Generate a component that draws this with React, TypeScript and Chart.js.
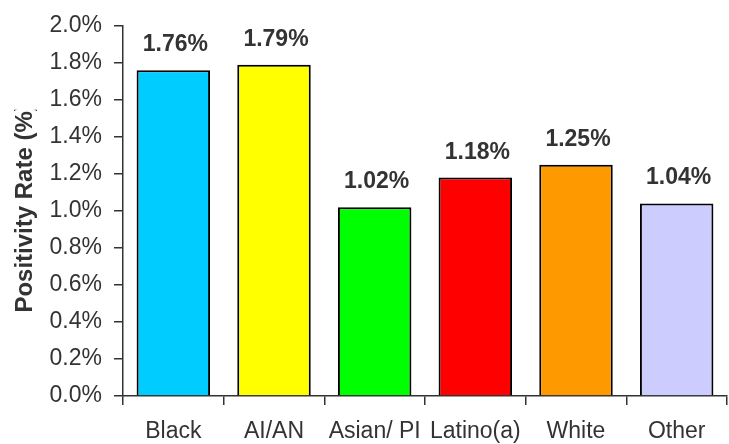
import { useEffect, useRef } from 'react';
import { Chart, registerables } from 'chart.js';

Chart.register(...registerables);

// Test positivity rate by race / ethnicity group
const groups = ['Black', 'AI/AN', 'Asian/ PI', 'Latino(a)', 'White', 'Other'];
const positivityRates = [1.76, 1.79, 1.02, 1.18, 1.25, 1.04];
const barColors = ['#00CCFF', '#FFFF00', '#00FF00', '#FF0000', '#FF9900', '#CCCCFF'];
const yAxisMin = 0;
const yAxisMax = 2.0;
const yAxisStep = 0.2;
const yAxisTitle = 'Positivity Rate (%)';

const FONT = '"Liberation Sans", Arial, Helvetica, sans-serif';
const TEXT = '#333333';
const LINE = '#333333';

// Bold percentage printed above every bar
const valueLabels = {
  id: 'valueLabels',
  afterDatasetsDraw(chart: any) {
    const { ctx } = chart;
    const meta = chart.getDatasetMeta(0);
    const values = chart.data.datasets[0].data as number[];
    ctx.save();
    ctx.font = `bold 23px ${FONT}`;
    ctx.fillStyle = TEXT;
    ctx.textAlign = 'center';
    ctx.textBaseline = 'alphabetic';
    meta.data.forEach((bar: any, i: number) => {
      ctx.fillText(`${values[i].toFixed(2)}%`, bar.x + 2, bar.y - 19);
    });
    ctx.restore();
  },
};

// Rotated y-axis title; its upper end is cut off by a clip box
const clippedAxisTitle = {
  id: 'clippedAxisTitle',
  afterDraw(chart: any) {
    const { ctx, chartArea } = chart;
    const cy = (chartArea.top + chartArea.bottom) / 2 - 3;
    ctx.save();
    ctx.beginPath();
    ctx.rect(0, chartArea.top + 84, chartArea.left, chartArea.bottom);
    ctx.clip();
    ctx.translate(32, cy);
    ctx.rotate(-Math.PI / 2);
    ctx.font = `bold 24px ${FONT}`;
    ctx.fillStyle = TEXT;
    ctx.textAlign = 'center';
    ctx.textBaseline = 'alphabetic';
    ctx.fillText(yAxisTitle, 0, 0);
    ctx.restore();
  },
};

export default function App() {
  const canvasRef = useRef<HTMLCanvasElement | null>(null);

  useEffect(() => {
    document.body.style.margin = '0';
    const canvas = canvasRef.current;
    if (!canvas) return;

    const chart = new Chart(canvas, {
      type: 'bar',
      data: {
        labels: groups,
        datasets: [
          {
            data: positivityRates,
            backgroundColor: barColors,
            borderColor: '#000000',
            borderWidth: 2,
            barPercentage: 0.73,
            categoryPercentage: 1,
          },
        ],
      },
      options: {
        responsive: false,
        animation: false,
        devicePixelRatio: 1,
        layout: { padding: { top: 21, right: 2, left: 0, bottom: 0 } },
        plugins: {
          legend: { display: false },
          tooltip: { enabled: false },
        },
        scales: {
          x: {
            offset: true,
            grid: {
              offset: true,
              drawOnChartArea: false,
              drawTicks: true,
              tickLength: 9,
              color: LINE,
              lineWidth: 1.5,
            },
            border: { display: true, color: LINE, width: 1.5 },
            ticks: {
              font: { family: FONT, size: 23 },
              color: TEXT,
              padding: 13,
              maxRotation: 0,
              autoSkip: false,
            },
            afterFit: (scale: any) => {
              scale.height = 48;
            },
          },
          y: {
            min: yAxisMin,
            max: yAxisMax,
            grid: {
              drawOnChartArea: false,
              drawTicks: true,
              tickLength: 9,
              color: LINE,
              lineWidth: 1.5,
            },
            border: { display: true, color: LINE, width: 1.5 },
            ticks: {
              stepSize: yAxisStep,
              font: { family: FONT, size: 23 },
              color: TEXT,
              padding: 12,
              callback: (v: any) => `${Number(v).toFixed(1)}%`,
            },
            afterFit: (scale: any) => {
              scale.width = 123;
            },
          },
        },
      },
      plugins: [valueLabels, clippedAxisTitle],
    });

    return () => chart.destroy();
  }, []);

  return (
    <div style={{ width: 729, height: 444, background: '#ffffff' }}>
      <canvas ref={canvasRef} width={729} height={444} style={{ display: 'block' }} />
    </div>
  );
}
